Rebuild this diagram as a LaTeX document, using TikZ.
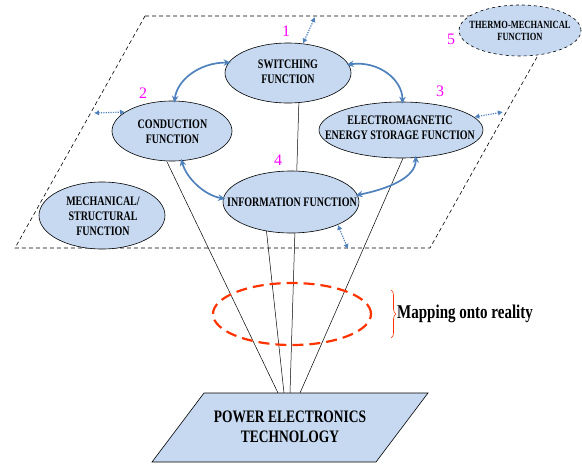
\documentclass[tikz,border=0pt]{standalone}
\usepackage{fontspec}
\newfontfamily\cf{Liberation Serif}[FakeStretch=0.77]
\newfontfamily\nf{Liberation Serif}
\usetikzlibrary{shapes.geometric,arrows.meta,backgrounds,decorations.pathreplacing}
\definecolor{fillb}{HTML}{C6D9F1}
\definecolor{arrb}{HTML}{4F81BD}
\definecolor{redd}{HTML}{FF3300}
\definecolor{magn}{HTML}{FF00FF}
\begin{document}
\begin{tikzpicture}[x=1pt,y=-1pt,
 fn/.style={ellipse, draw=black, line width=0.6pt, fill=fillb, inner sep=0pt},
 fntext/.style={font=\cf\bfseries\fontsize{13}{15}\selectfont, align=center, inner sep=0pt},
 num/.style={font=\nf\fontsize{16}{16}\selectfont, text=magn, inner sep=0pt},
 link/.style={line width=1.7pt, draw=arrb, {Stealth[length=7pt,width=6.5pt]}-{Stealth[length=7pt,width=6.5pt]}, shorten <=-2pt, shorten >=-2pt},
 dlink/.style={line width=1.2pt, draw=arrb, dash pattern=on 1.2pt off 1.2pt, {Latex[length=5pt,width=5.5pt]}-{Latex[length=5pt,width=5.5pt]}},
 mapline/.style={line width=0.5pt, draw=black}
]
\useasboundingbox (0,0) rectangle (582,464);

% function ellipses
\node[fn, minimum width=126, minimum height=60] (sw) at (288,73) {};
\node[fntext] at (288,72) {SWITCHING\\FUNCTION};
\node[fn, minimum width=120, minimum height=60] (cd) at (172,131) {};
\node[fntext] at (172.5,132) {CONDUCTION\\FUNCTION};
\node[fn, minimum width=164, minimum height=56] (em) at (401,130) {};
\node[fntext] at (400,128) {ELECTROMAGNETIC\\ENERGY STORAGE FUNCTION};
\node[fn, minimum width=136, minimum height=62] (inf) at (291,202) {};
\node[fntext] at (292,202) {INFORMATION FUNCTION};
\node[fn, minimum width=126, minimum height=67] (mech) at (102,215.5) {};
\node[fntext] at (103,216) {MECHANICAL/\\STRUCTURAL\\FUNCTION};
\node[fn, dashed, minimum width=122, minimum height=51] (thm) at (520,30.5) {};
\node[fntext, font=\cf\bfseries\fontsize{11}{12.5}\selectfont] at (520,31) {THERMO-MECHANICAL\\FUNCTION};

% numbers
\node[num] (n1) at (286,31) {1};
\node[num] (n2) at (143,93) {2};
\node[num] (n3) at (440,91) {3};
\node[num] (n4) at (278,160) {4};
\node[num] (n5) at (451,39) {5};

% technology plane
\coordinate (p1) at (204,393);
\coordinate (p2) at (428,393);
\coordinate (p3) at (376,462);
\coordinate (p4) at (152,462);
\draw[fill=fillb, line width=0.6pt] (p1) -- (p2) -- (p3) -- (p4) -- cycle;
\node[font=\cf\bfseries\fontsize{17.5}{20}\selectfont, align=center, inner sep=0pt] (pet) at (290,427) {POWER ELECTRONICS\\TECHNOLOGY};

\coordinate (t1) at (278,393);
\coordinate (t2) at (284,393);
\coordinate (t3) at (290,393);
\coordinate (t4) at (300,393);

\begin{scope}[on background layer]
  \draw[line width=0.6pt, dash pattern=on 4pt off 3pt] (145,16) -- (560,16) -- (430,248) -- (15,248) -- cycle;
  \draw[mapline] (cd.-100) -- (t1);
  \draw[mapline] (inf.-130) -- (t2);
  \draw[mapline] (sw.-70) -- (t3);
  \draw[mapline] (em.-86) -- (t4);
\end{scope}

% interaction arrows
\draw[link] (sw.170) .. controls +(-30,0) and +(2,-20) .. (cd.85);
\draw[link] (sw.8) .. controls +(30,-4) and +(0,-22) .. (em.87);
\draw[link] (cd.-72) .. controls +(5,18) and +(-18,-3) .. (inf.177);
\draw[link] (inf.6) .. controls +(30,-6) and +(0,20) .. (em.-62);

% environment arrows
\coordinate (d1) at (315,17);
\coordinate (d2) at (94,113);
\coordinate (d3) at (503,112);
\coordinate (d4) at (348,249);
\draw[dlink] (d1) -- (sw.63);
\draw[dlink] (d2) -- (cd.158);
\draw[dlink] (em.10) -- (d3);
\draw[dlink] (inf.-26) -- (d4);

% mapping
\node[ellipse, draw=redd, line width=2.2pt, dash pattern=on 11pt off 6pt, minimum width=158, minimum height=62, inner sep=0pt] (map) at (292,314) {};
\coordinate (b1) at (391,290);
\coordinate (b2) at (391,338);
\draw[decorate, decoration={brace, amplitude=5pt}, draw=redd, line width=0.6pt] (b1) -- (b2);
\node[font=\cf\bfseries\fontsize{19.5}{19.5}\selectfont, anchor=west, inner sep=0pt] (mt) at (397,314) {Mapping onto reality};
\end{tikzpicture}
\end{document}
